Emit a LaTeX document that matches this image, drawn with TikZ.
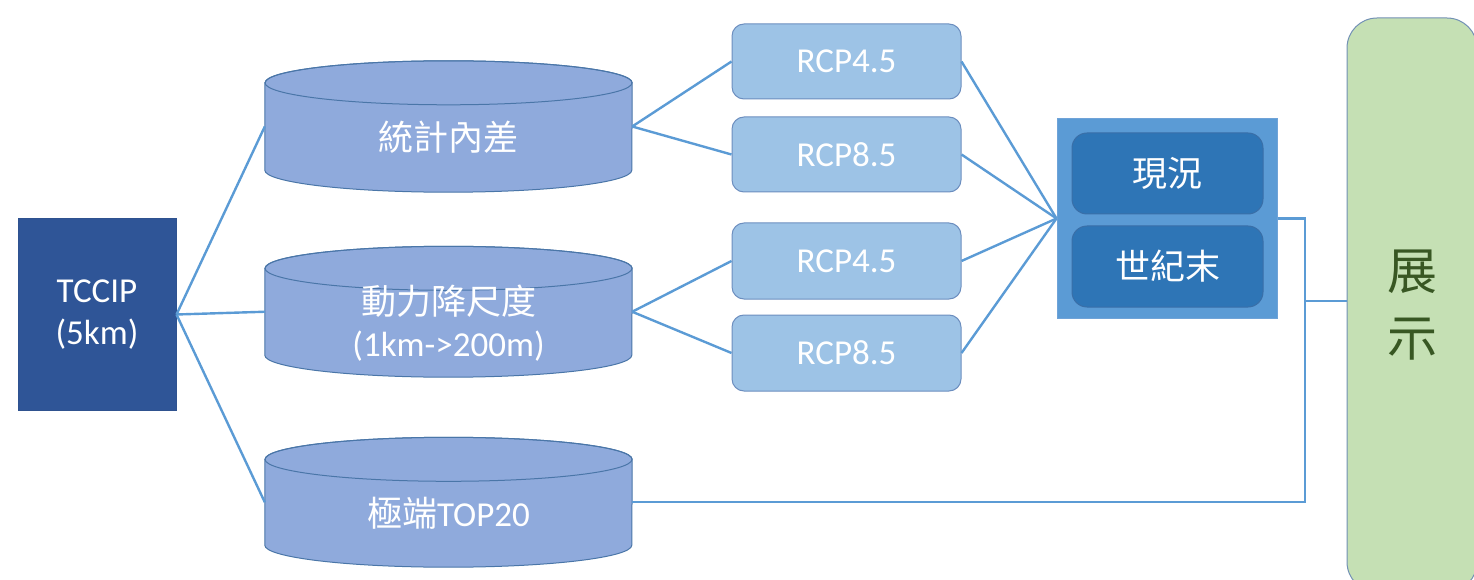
\documentclass[tikz,border=0pt]{standalone}
\usepackage{fontspec}
\setmainfont{Carlito}
\newfontfamily\cjk{Noto Sans CJK TC}
\usetikzlibrary{calc,backgrounds}
\definecolor{tccipfill}{HTML}{2F5597}
\definecolor{tccipborder}{HTML}{2F528F}
\definecolor{cylfill}{HTML}{8FAADC}
\definecolor{cylborder}{HTML}{4A76A8}
\definecolor{rcpfill}{HTML}{9DC3E6}
\definecolor{rcpborder}{HTML}{6C8EBF}
\definecolor{grpfill}{HTML}{5B9BD5}
\definecolor{grpborder}{HTML}{6FA3D8}
\definecolor{innerfill}{HTML}{2E75B6}
\definecolor{innerborder}{HTML}{3A6FA8}
\definecolor{showfill}{HTML}{C5E0B4}
\definecolor{showborder}{HTML}{7290B5}
\definecolor{showtext}{HTML}{385723}
\definecolor{linkcol}{HTML}{5B9BD5}
\tikzset{
  latinfont/.style={font=\fontsize{35}{42}\selectfont},
  tccipbox/.style={draw=tccipborder, fill=tccipfill, line width=1pt, minimum width=158pt,
    minimum height=191pt, text=white, align=center, inner sep=0pt, latinfont},
  cylbody/.style={minimum width=367pt, inner sep=0pt, text=white, align=center, latinfont},
  cylshape/.style={draw=cylborder, fill=cylfill, line width=1pt},
  rcpbox/.style={draw=rcpborder, fill=rcpfill, line width=1pt, rounded corners=12pt,
    minimum width=229pt, minimum height=75pt, text=white, inner sep=0pt, latinfont},
  grpbox/.style={draw=grpborder, fill=grpfill, line width=1pt, minimum width=220pt,
    minimum height=199pt, inner sep=0pt},
  innerbox/.style={draw=innerborder, fill=innerfill, line width=1pt, rounded corners=15pt,
    minimum width=191pt, minimum height=81pt, text=white, inner sep=0pt, latinfont},
  showbox/.style={draw=showborder, fill=showfill, line width=1pt, rounded corners=30pt,
    minimum width=130pt, minimum height=574pt, text=showtext, align=center, inner sep=0pt,
    font=\fontsize{50}{67}\selectfont\cjk},
  link/.style={draw=linkcol, line width=2.4pt},
}
\newcommand\drawcylinder[1]{%
  \filldraw[cylshape] (#1.north west) -- ($(#1.south west)+(0,22)$)
    arc[start angle=180,end angle=360,x radius=183.5,y radius=22] -- (#1.north east)
    arc[start angle=0,end angle=180,x radius=183.5,y radius=22] -- cycle;
  \draw[cylshape,fill=none] (#1.north) ellipse[x radius=183.5,y radius=22];}
\begin{document}
\begin{tikzpicture}[x=1pt,y=1pt]
\useasboundingbox (0,0) rectangle (1474,579);
% nodes
\node[tccipbox] (t) at (97,264.5) {TCCIP\\(5km)};
\node[cylbody, minimum height=109pt] (c1) at (448.5,441.5) {{\cjk 統計內差}};
\node[cylbody, minimum height=108.5pt] (c2) at (448.5,256.25) {{\cjk 動力降尺度}\\(1km->200m)};
\node[cylbody, minimum height=107.5pt] (c3) at (448.5,65.75) {{\cjk 極端}TOP20};
\begin{scope}[on background layer]
  \drawcylinder{c1}
  \drawcylinder{c2}
  \drawcylinder{c3}
\end{scope}
\node[rcpbox] (r1) at (846.5,517.5) {RCP4.5};
\node[rcpbox] (r2) at (846.5,424.5) {RCP8.5};
\node[rcpbox, minimum height=76pt] (r3) at (846.5,318) {RCP4.5};
\node[rcpbox, minimum height=76pt] (r4) at (846.5,226) {RCP8.5};
\node[grpbox] (g) at (1167,360.5) {};
\node[innerbox] (n1) at (1167.5,405.5) {{\cjk 現況}};
\node[innerbox] (n2) at (1167.5,312.5) {{\cjk 世紀末}};
\node[showbox] (d) at (1412,274) {展\\示};
\coordinate (j) at (1305,278);
% connectors
\draw[link] (t.east) -- ([yshift=11pt]c1.west);
\draw[link] (t.east) -- ([yshift=11pt]c2.west);
\draw[link] (t.east) -- ([yshift=11pt]c3.west);
\draw[link] ([yshift=11pt]c1.east) -- (r1.west);
\draw[link] ([yshift=11pt]c1.east) -- (r2.west);
\draw[link] ([yshift=11pt]c2.east) -- (r3.west);
\draw[link] ([yshift=11pt]c2.east) -- (r4.west);
\draw[link] (r1.east) -- (g.west);
\draw[link] (r2.east) -- (g.west);
\draw[link] (r3.east) -- (g.west);
\draw[link] (r4.east) -- (g.west);
\draw[link] (g.east) -| (j) -- (j -| d.west);
\draw[link] ([yshift=11pt]c3.east) -| (j);
\end{tikzpicture}
\end{document}
